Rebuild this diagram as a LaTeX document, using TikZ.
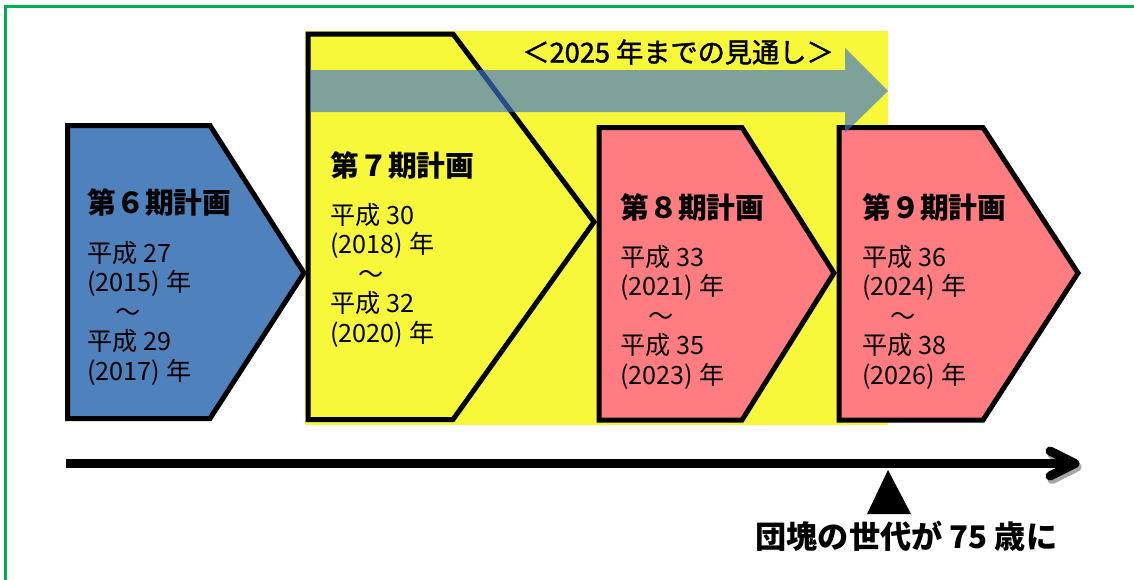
\documentclass[tikz,border=0pt]{standalone}
\usepackage{fontspec}
\newfontfamily\jp{Noto Sans CJK JP}
\newfontfamily\jpheavy[FakeBold=1.6]{Noto Sans CJK JP}
\definecolor{planblue}{RGB}{79,129,189}
\definecolor{planpink}{RGB}{255,124,128}
\definecolor{planyel}{RGB}{248,248,58}
\definecolor{outlookc}{RGB}{62,117,206}
\definecolor{framegreen}{RGB}{0,176,80}
\newcommand{\planlines}[7]{%
  \node[bodytext] (#1-1) at (#2,#3) {#4};
  \node[bodytext] (#1-2) at (#2,#3+29.5) {#5};
  \node[bodytext] (#1-3) at (#2+28,#3+59) {～};
  \node[bodytext] (#1-4) at (#2,#3+88.5) {#6};
  \node[bodytext] (#1-5) at (#2,#3+118) {#7};
}
\tikzset{
  planshape/.style={draw=black, line width=2.5pt, line join=miter},
  bodytext/.style={anchor=base west, inner sep=0pt, font=\jp\fontsize{12.6}{14}\selectfont},
  titletext/.style={anchor=base west, inner sep=0pt, font=\jp\bfseries\fontsize{14.4}{16}\selectfont},
}
\begin{document}
\begin{tikzpicture}[x=0.5pt,y=-0.5pt]
\useasboundingbox (0,0) rectangle (1134,579);
% frame
\draw[framegreen, line width=1.3pt] (5.5,600) -- (5.5,6.5) -- (1150,6.5);
% yellow background
\fill[planyel] (305,31) rectangle (888,425);
% plan 6
\draw[planshape, fill=planblue] (67.5,125.5) -- (210,125.5) -- (304,273) -- (210,418.5) -- (67.5,418.5) -- cycle;
\node[titletext] (t6) at (87,213) {第６期計画};
\planlines{p6}{87}{262}{平成 27}{(2015) 年}{平成 29}{(2017) 年}
% plan 7
\draw[planshape, fill=planyel] (308,34) -- (453,34) -- (594,222) -- (453,419.5) -- (308,419.5) -- cycle;
\node[titletext] (t7) at (330,176) {第７期計画};
\planlines{p7}{330}{224}{平成 30}{(2018) 年}{平成 32}{(2020) 年}
% plan 8
\draw[planshape, fill=planpink] (599,127.5) -- (742,127.5) -- (834,273) -- (742,420) -- (599,420) -- cycle;
\node[titletext] (t8) at (620,218) {第８期計画};
\planlines{p8}{620}{266}{平成 33}{(2021) 年}{平成 35}{(2023) 年}
% plan 9
\draw[planshape, fill=planpink] (839,127.5) -- (983,127.5) -- (1078,273) -- (983,420) -- (839,420) -- cycle;
\node[titletext] (t9) at (862,218) {第９期計画};
\planlines{p9}{862}{266}{平成 36}{(2024) 年}{平成 38}{(2026) 年}
% outlook arrow
\fill[outlookc, opacity=0.65] (310,70) -- (845,70) -- (845,48) -- (888,91) -- (845,133) -- (845,112) -- (310,112) -- cycle;
\node[anchor=west, inner sep=0pt, font=\jpheavy\fontsize{13.6}{15}\selectfont] (outlook) at (522,52) {＜2025 年までの見通し＞};
% timeline
\coordinate (tl0) at (66,463.5);
\coordinate (tl1) at (1072,463.5);
\begin{scope}[shift={(2,3.5)}]
\draw[black!35, line width=4.5pt] (tl0) -- (tl1);
\draw[black!35, line width=4.5pt, line cap=round, line join=round] (1050,451) -- (1075,463.5) -- (1050,476);
\end{scope}
\draw[black, line width=4.5pt] (tl0) -- (tl1);
\draw[black, line width=4.5pt, line cap=round, line join=round] (1050,451) -- (1075,463.5) -- (1050,476);
% marker
\fill[black] (888,470) -- (911,514) -- (867,514) -- cycle;
\node[anchor=base west, inner sep=0pt, font=\jp\bfseries\fontsize{15.6}{17}\selectfont] (dankai) at (755,548) {団塊の世代が 75 歳に};
\end{tikzpicture}
\end{document}
